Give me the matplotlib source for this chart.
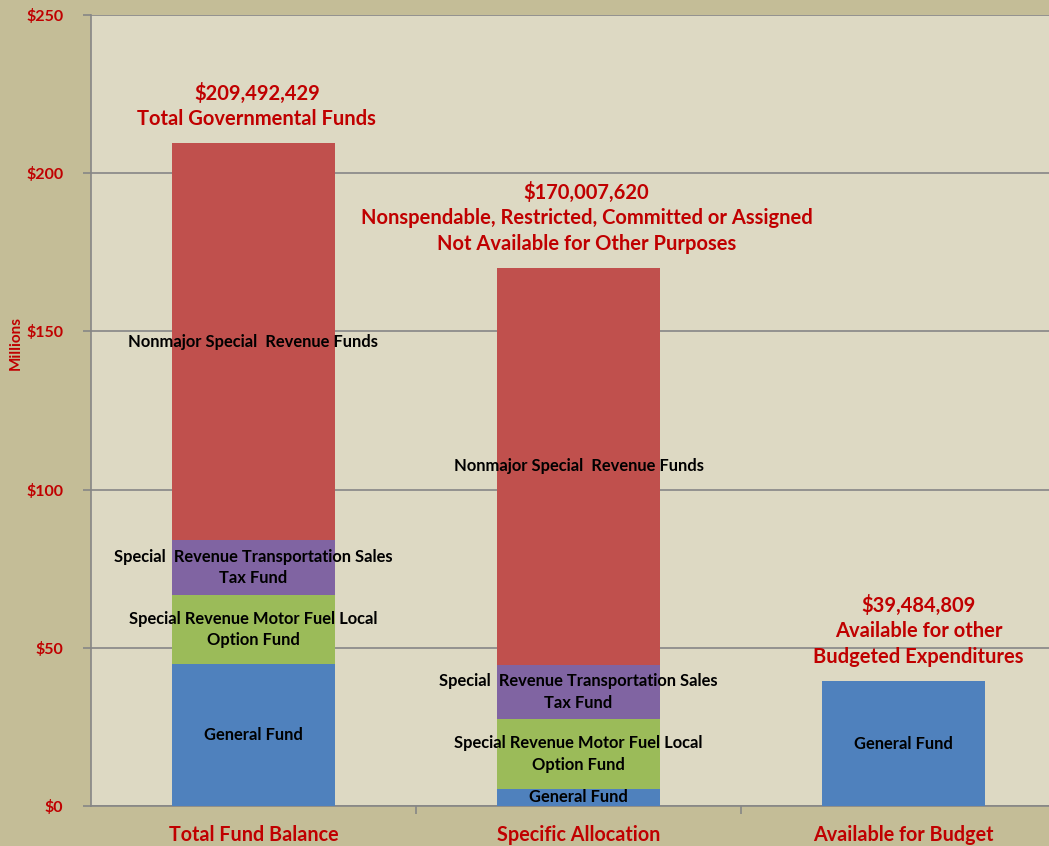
import matplotlib
import matplotlib.pyplot as plt
import numpy as np

matplotlib.use('Agg')

# values in millions of dollars
categories = ['Total Fund Balance', 'Specific Allocation', 'Available for Budget']
general_fund = [44.9, 5.4, 39.48]
motor_fuel = [21.8, 22.1, 0.0]
transportation = [17.4, 17.1, 0.0]
nonmajor = [125.39, 125.41, 0.0]

segment_names = ['General Fund',
                 'Special Revenue Motor Fuel Local\nOption Fund',
                 'Special  Revenue Transportation Sales\nTax Fund',
                 'Nonmajor Special  Revenue Funds']
headings = ['$209,492,429\nTotal Governmental Funds',
            '$170,007,620\nNonspendable, Restricted, Committed or Assigned\nNot Available for Other Purposes',
            '$39,484,809\nAvailable for other\nBudgeted Expenditures']
y_ticks = [0, 50, 100, 150, 200, 250]

colors = ['#4F81BD', '#9BBB59', '#8064A2', '#C0504D']
red = '#C00000'
plt.rcParams['font.family'] = ['Lato', 'DejaVu Sans']

fig = plt.figure(figsize=(10.49, 8.46), dpi=100, facecolor='#C4BD97')
ax = fig.add_axes([91 / 1049, 40 / 846, 975 / 1049, 791 / 846])
ax.set_facecolor('#DDD9C3')

x = np.arange(len(categories))
series = [general_fund, motor_fuel, transportation, nonmajor]
bottom = np.zeros(len(categories))
for vals, col, name in zip(series, colors, segment_names):
    vals = np.array(vals)
    ax.bar(x, vals, width=0.5, bottom=bottom, color=col, zorder=3)
    for i, v in enumerate(vals):
        if v > 0:
            ax.text(x[i], bottom[i] + v / 2, name, ha='center', va='center',
                    fontsize=11.9, fontweight='bold', color='black', zorder=4,
                    linespacing=1.42)
    bottom += vals

# headings above the bars (Excel text boxes sit a bit right of centre)
x_shift = [0.01, 0.025, 0.046]
for i, txt in enumerate(headings):
    ax.annotate(txt, xy=(x[i] + x_shift[i], bottom[i]), xytext=(0, 10),
                textcoords='offset points', ha='center', va='bottom',
                fontsize=14.5, fontweight='bold', color=red, linespacing=1.36)

ax.set_xlim(-0.5, 2.5)
ax.set_ylim(0, 250)
ax.set_yticks(y_ticks)
ax.set_yticklabels(['$' + str(t) for t in y_ticks])
ax.yaxis.grid(True, color='#868686', linewidth=1.2, zorder=0)
ax.set_ylabel('Millions', color=red, fontsize=11, fontweight='bold')
ax.yaxis.set_label_coords(-0.07, 0.585)

ax.set_xticks([0.5, 1.5], minor=False)
ax.set_xticklabels([])
ax.set_xticks(x, minor=True)
ax.set_xticklabels(categories, minor=True)
ax.tick_params(axis='x', which='minor', length=0, pad=14)
ax.tick_params(axis='x', which='major', length=6, color='#868686', width=1.2)
ax.tick_params(axis='y', length=6, color='#868686', width=1.2, pad=14)
for lab in ax.get_xticklabels(minor=True):
    lab.set_fontsize(14.2)
    lab.set_fontweight('bold')
    lab.set_color(red)
for lab in ax.get_yticklabels():
    lab.set_fontsize(11.5)
    lab.set_fontweight('bold')
    lab.set_color(red)

for side in ['top', 'right']:
    ax.spines[side].set_visible(False)
for side in ['left', 'bottom']:
    ax.spines[side].set_color('#868686')
    ax.spines[side].set_linewidth(1.2)

fig.savefig('out.png', dpi=100, facecolor=fig.get_facecolor())
